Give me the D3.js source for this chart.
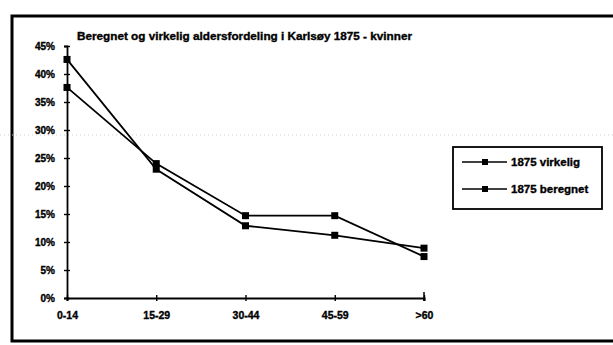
<!DOCTYPE html>
<html>
<head>
<meta charset="utf-8">
<script src="https://cdn.jsdelivr.net/npm/d3@7/dist/d3.min.js"></script>
<style>
  html, body { margin: 0; padding: 0; background: #fff; }
  svg { display: block; }
  text { font-family: "Liberation Sans", Arial, sans-serif; font-weight: bold; fill: #000; stroke: #000; stroke-width: 0.35px; }
</style>
</head>
<body>
<svg id="chart" width="613" height="345"></svg>
<script>
// Age groups and shares of women in each group, Karlsøy 1875
const categories = ["0-14", "15-29", "30-44", "45-59", ">60"];
const virkelig = [0.426, 0.230, 0.129, 0.112, 0.089];
const beregnet = [0.376, 0.240, 0.147, 0.147, 0.074];
const yTicks = [0, 0.05, 0.10, 0.15, 0.20, 0.25, 0.30, 0.35, 0.40, 0.45];
const seriesNames = ["1875 virkelig", "1875 beregnet"];
const title = "Beregnet og virkelig aldersfordeling i Karlsøy 1875 - kvinner";

const svg = d3.select("#chart");

// outer frame (right edge runs past the page)
svg.append("rect")
  .attr("x", 12).attr("y", 16).attr("width", 640).attr("height", 325)
  .attr("fill", "none").attr("stroke", "#000").attr("stroke-width", 3);

// faint dotted rule across the sheet
svg.append("line")
  .attr("x1", 0).attr("x2", 613).attr("y1", 135).attr("y2", 135)
  .attr("stroke", "#cfcfcf").attr("stroke-width", 1).attr("stroke-dasharray", "1,3");

const x = d3.scalePoint().domain(categories).range([67, 424]);
const y = d3.scaleLinear().domain([0, 0.45]).range([298, 46]);

// title
svg.append("text")
  .attr("x", 77).attr("y", 40)
  .attr("font-size", 11)
  .attr("textLength", 335).attr("lengthAdjust", "spacingAndGlyphs")
  .text(title);

// y axis with cross ticks
const yAxis = svg.append("g").attr("transform", "translate(67,0)")
  .call(d3.axisLeft(y).tickValues(yTicks).tickFormat(d3.format(".0%")).tickSize(3).tickPadding(9));
yAxis.select(".domain").attr("stroke", "#000").attr("stroke-width", 1.8);
yAxis.selectAll(".tick line").attr("x2", 3).attr("x1", -3).attr("stroke-width", 1.4);
yAxis.selectAll(".tick text").attr("font-size", 10).attr("font-family", "Liberation Sans, Arial, sans-serif")
  .attr("font-weight", "bold").attr("stroke", "#000").attr("stroke-width", 0.35);

// x axis
const xAxis = svg.append("g").attr("transform", "translate(0,298)")
  .call(d3.axisBottom(x).tickSize(3).tickPadding(11));
xAxis.select(".domain").attr("stroke", "#000").attr("stroke-width", 2);
xAxis.selectAll(".tick line").attr("y1", -3).attr("y2", 3).attr("stroke-width", 1.4);
xAxis.selectAll(".tick text").attr("font-size", 10.5).attr("font-family", "Liberation Sans, Arial, sans-serif")
  .attr("font-weight", "bold").attr("stroke", "#000").attr("stroke-width", 0.35);
// end cap at the last category
xAxis.append("line")
  .attr("x1", x(categories[categories.length - 1])).attr("x2", x(categories[categories.length - 1]))
  .attr("y1", -6).attr("y2", 3).attr("stroke", "#000").attr("stroke-width", 1.5);

// series lines and square markers
const line = d3.line().x((d, i) => x(categories[i])).y(d => y(d));
[virkelig, beregnet].forEach(vals => {
  svg.append("path").datum(vals)
    .attr("d", line).attr("fill", "none")
    .attr("stroke", "#000").attr("stroke-width", 1.8);
  svg.selectAll(null).data(vals).enter().append("rect")
    .attr("x", (d, i) => x(categories[i]) - 3.5)
    .attr("y", d => y(d) - 3.5)
    .attr("width", 7).attr("height", 7)
    .attr("fill", "#000");
});

// legend
const lg = svg.append("g");
lg.append("rect")
  .attr("x", 453).attr("y", 147).attr("width", 149).attr("height", 62)
  .attr("fill", "#fff").attr("stroke", "#000").attr("stroke-width", 1.8);
seriesNames.forEach((name, i) => {
  const ly = 162 + i * 27;
  lg.append("line").attr("x1", 462).attr("x2", 507).attr("y1", ly).attr("y2", ly)
    .attr("stroke", "#000").attr("stroke-width", 1.6);
  lg.append("rect").attr("x", 482).attr("y", ly - 3).attr("width", 6).attr("height", 6).attr("fill", "#000");
  lg.append("text").attr("x", 511).attr("y", ly + 4).attr("font-size", 11.5).text(name);
});
</script>
</body>
</html>
